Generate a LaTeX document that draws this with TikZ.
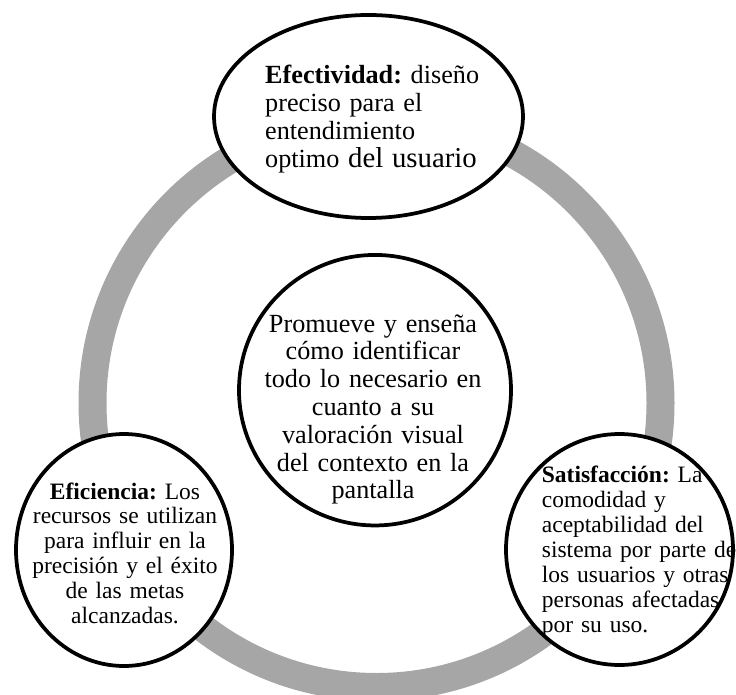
\documentclass[tikz,border=0pt]{standalone}
\usepackage{fontspec}
\setmainfont{Liberation Serif}[WordSpace=0.8]
\usetikzlibrary{shapes.geometric}
\definecolor{ringgray}{RGB}{166,166,166}
\begin{document}
\frenchspacing
\begin{tikzpicture}[x=1pt,y=-1pt,
  bubble/.style={ellipse, draw=black, line width=3.75pt, fill=white, inner sep=0pt},
  bigtxt/.style={inner sep=0pt, font=\frenchspacing\fontsize{26.2}{27.8}\selectfont},
  smalltxt/.style={inner sep=0pt, font=\frenchspacing\fontsize{23.5}{24.8}\selectfont}]
\useasboundingbox (0,0) rectangle (736,695);
\node[circle, draw=ringgray, line width=28pt, minimum size=568pt, inner sep=0pt] (ring) at (376.5,403) {};
\node[bubble, minimum width=309pt, minimum height=203pt] (top) at (368.5,116.5) {};
\node[bubble, minimum width=272pt, minimum height=270.5pt] (mid) at (375,390.2) {};
\node[bubble, minimum width=216pt, minimum height=232pt] (left) at (124,550) {};
\node[bubble, minimum width=227pt, minimum height=231pt] (right) at (619.5,549.5) {};
\node[bigtxt, text width=270pt, align=left, anchor=base west] (toptext) at (265,84)
  {\textbf{Efectividad:} diseño\\ preciso para el\\ entendimiento\\ optimo {\fontsize{28.8}{27.8}\selectfont del usuario}};
\node[bigtxt, text width=260pt, align=center, anchor=base] (midtext) at (373,332)
  {Promueve y enseña\\ cómo identificar\\ todo lo necesario en\\ cuanto a su\\ valoración visual\\ del contexto en la\\ pantalla};
\node[smalltxt, text width=220pt, align=center, anchor=base] (lefttext) at (125,499)
  {\textbf{Eficiencia:} Los\\ recursos se utilizan\\ para influir en la\\ precisión y el éxito\\ de las metas\\ alcanzadas.};
\node[inner sep=0pt, font=\frenchspacing\fontsize{23.5}{25}\selectfont, text width=220pt, align=left, anchor=base west] (righttext) at (541.7,482)
  {\textbf{Satisfacción:} La\\ comodidad y\\ aceptabilidad del\\ sistema por parte de\\ los usuarios y otras\\ personas afectadas\\ por su uso.};
\end{tikzpicture}
\end{document}
